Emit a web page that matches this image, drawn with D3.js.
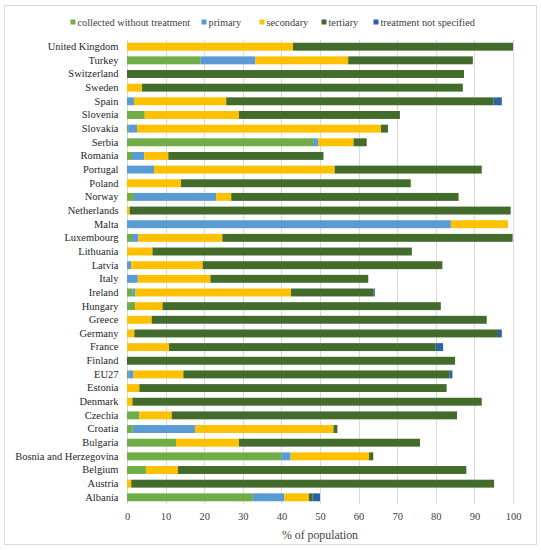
<!DOCTYPE html>
<html>
<head>
<meta charset="utf-8">
<script src="https://cdn.jsdelivr.net/npm/d3@7"></script>
<style>
body{margin:0;background:#fff;}
</style>
</head>
<body>
<svg id="chart"></svg>
<script>
// countries, top to bottom
var countries = ["United Kingdom","Turkey","Switzerland","Sweden","Spain","Slovenia","Slovakia","Serbia","Romania","Portugal","Poland","Norway","Netherlands","Malta","Luxembourg","Lithuania","Latvia","Italy","Ireland","Hungary","Greece","Germany","France","Finland","EU27","Estonia","Denmark","Czechia","Croatia","Bulgaria","Bosnia and Herzegovina","Belgium","Austria","Albania"];

var seriesNames = ["collected without treatment","primary","secondary","tertiary","treatment not specified"];

// % of population per series (same order as countries)
var collected = [0,19.1,0,0,0,4.6,0.3,48.2,1.3,0,0,1.8,0,0,1.3,0,0,0,1.5,2.1,0,0,0,0,0.3,0,0,3.2,1.5,12.7,40.0,4.9,0,32.6];
var primary   = [0,14.2,0,0,1.8,0,2.3,1.3,3.2,7.0,0,21.3,0,83.9,1.6,0,1.1,2.8,0.7,0,0,0,0,0,1.4,0,0,0,16.1,0,2.4,0,0,8.2];
var secondary = [43.0,24.0,0,3.9,23.9,24.4,63.2,9.2,6.2,46.8,14.0,3.9,0.7,14.8,21.8,6.6,18.5,18.8,40.3,7.1,6.4,1.9,10.9,0,12.9,3.2,1.4,8.4,35.9,16.3,20.3,8.3,1.1,6.3];
var tertiary  = [57.0,32.3,87.3,83.1,69.2,41.7,1.8,3.4,40.2,38.1,59.5,58.9,98.7,0,75.2,67.2,62.1,40.9,21.3,72.1,86.8,94.2,69.1,85.0,69.0,79.6,90.5,73.9,1.0,46.9,1.1,74.7,94.0,1.0];
var notSpec   = [0,0,0,0,2.2,0,0,0,0,0,0,0,0,0,0,0,0,0,0.4,0,0,1.0,1.9,0,0.7,0,0,0,0,0,0,0,0,1.9];

var xTicks = [0,10,20,30,40,50,60,70,80,90,100];
var colors = ["#70AD47","#5B9BD5","#FFC000","#426B2C","#2A62A3"];
var serif = "'Liberation Serif'";

var screen = {width:541, height:550};
var margins = {top:40, bottom:46, left:127, right:28};
var graph = {width:screen.width-margins.left-margins.right, height:screen.height-margins.top-margins.bottom};

var rows = countries.map(function(c,i){
    return {country:c, "collected without treatment":collected[i], primary:primary[i],
            secondary:secondary[i], tertiary:tertiary[i], "treatment not specified":notSpec[i]};
});

var stacked = d3.stack().keys(seriesNames)(rows);

var svg = d3.select("#chart").attr("width",screen.width).attr("height",screen.height);

// outer frame
svg.append("rect").attr("x",4.5).attr("y",5.5).attr("width",532).attr("height",539)
    .attr("fill","none").attr("stroke","#D9D9D9");

var xScale = d3.scaleLinear().domain([0,100]).range([0,graph.width]);
var yScale = d3.scaleBand().domain(countries).range([0,graph.height]).paddingInner(0.42).paddingOuter(0.2);

var g = svg.append("g").attr("transform","translate("+margins.left+","+margins.top+")");

// gridlines
g.append("g").selectAll("line").data(xTicks).enter().append("line")
    .attr("x1",function(d){return Math.round(xScale(d))+0.5;})
    .attr("x2",function(d){return Math.round(xScale(d))+0.5;})
    .attr("y1",0).attr("y2",graph.height)
    .attr("stroke","#D9D9D9").attr("stroke-width",1);

// bars
g.append("g").selectAll("g").data(stacked).enter().append("g")
    .attr("fill",function(d,i){return colors[i];})
    .selectAll("rect").data(function(d){return d;}).enter().append("rect")
    .attr("x",function(d){return xScale(d[0]);})
    .attr("width",function(d){return xScale(d[1])-xScale(d[0]);})
    .attr("y",function(d){return yScale(d.data.country);})
    .attr("height",yScale.bandwidth());

// axes
var xAxis = d3.axisBottom(xScale).tickValues(xTicks).tickSize(0).tickPadding(9);
var ax = g.append("g").attr("transform","translate(0,"+graph.height+")").call(xAxis);
ax.select(".domain").remove();
ax.selectAll("text").style("font-family",serif).style("font-size","10.5px").attr("fill","#404040");

var yAxis = d3.axisLeft(yScale).tickSize(0).tickPadding(8.5);
var ay = g.append("g").call(yAxis);
ay.select(".domain").remove();
ay.selectAll("text").style("font-family",serif).style("font-size","10.5px").attr("fill","#262626");

// axis title
svg.append("text").text("% of population")
    .attr("x",margins.left+graph.width/2).attr("y",539)
    .attr("text-anchor","middle").style("font-family",serif).style("font-size","11.8px").attr("fill","#404040");

// legend
var legendX = [70.5,201.5,259.5,321.5,373.5];
var legend = svg.append("g").selectAll("g").data(seriesNames).enter().append("g")
    .attr("transform",function(d,i){return "translate("+legendX[i]+",22)";});
legend.append("rect").attr("x",0).attr("y",-2.5).attr("width",5).attr("height",5)
    .attr("fill",function(d,i){return colors[i];});
legend.append("text").text(function(d){return d;})
    .attr("x",7).attr("y",3.6).style("font-family",serif).style("font-size","10.3px").attr("fill","#404040");
</script>
</body>
</html>
